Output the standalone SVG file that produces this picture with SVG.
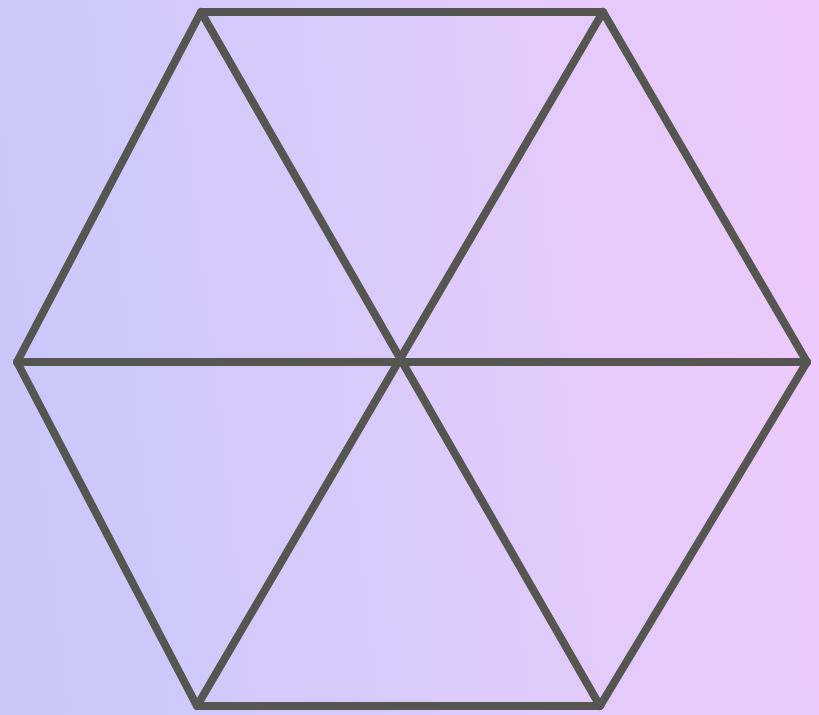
<svg xmlns="http://www.w3.org/2000/svg" width="819" height="715" viewBox="0 0 819 715">
<defs>
<linearGradient id="bg" x1="0" y1="0.5" x2="1" y2="0.4">
<stop offset="0" stop-color="#c9c8fb"/>
<stop offset="0.5" stop-color="#dccbfb"/>
<stop offset="1" stop-color="#edcafb"/>
</linearGradient>
<style>
.ln{stroke:#555652;stroke-width:8;fill:none;stroke-linecap:round;stroke-linejoin:round}
</style>
</defs>
<rect width="819" height="715" fill="url(#bg)"/>
<g id="connectors" class="ln">
<polygon points="201,12 603,12 807,362 600,706 197,706 17,362"/>
<line x1="17" y1="362" x2="807" y2="362"/>
<line x1="201" y1="12" x2="600" y2="706"/>
<line x1="603" y1="12" x2="197" y2="706"/>
</g>
</svg>
